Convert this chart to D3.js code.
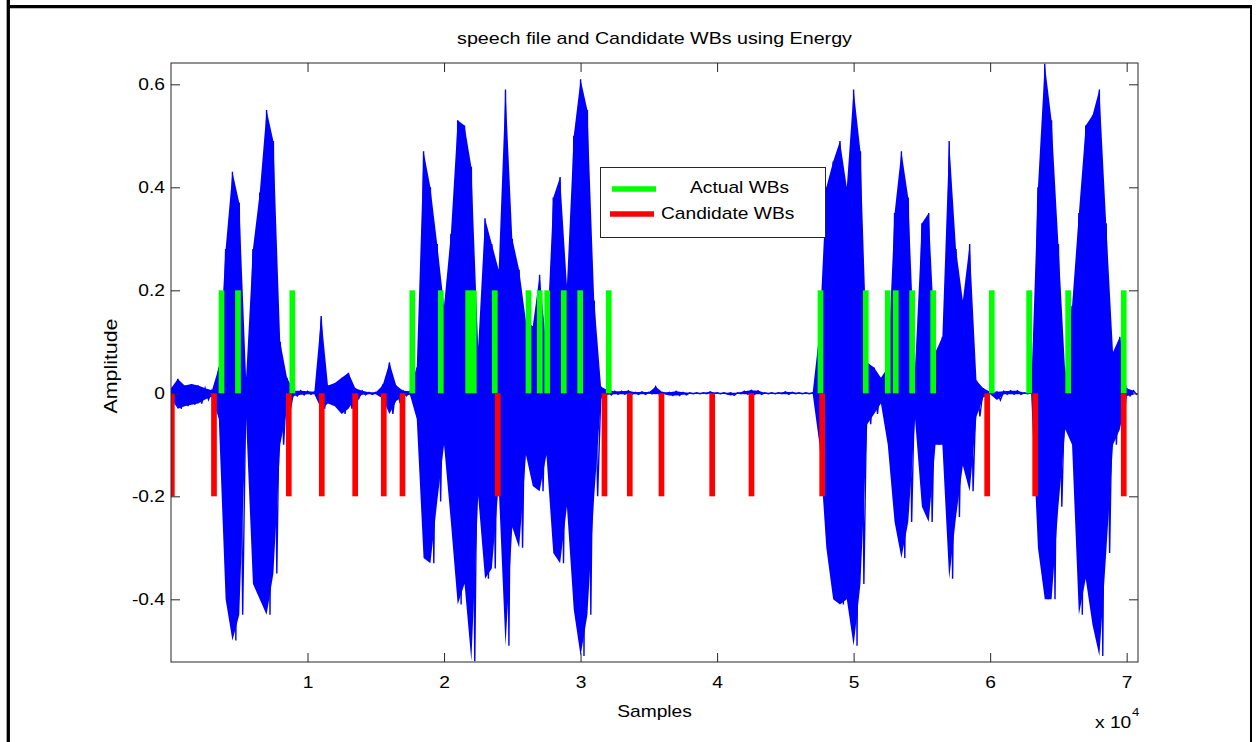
<!DOCTYPE html>
<html>
<head>
<meta charset="utf-8">
<script src="https://cdn.jsdelivr.net/npm/d3@7"></script>
<style>
body{margin:0;background:#fff}
svg{display:block}
text{font-family:"Liberation Sans",Arial,Helvetica,sans-serif;fill:#000}
</style>
</head>
<body>
<svg id="chart" width="1259" height="742"></svg>
<script>
// envelope of the speech signal, read every 500 samples (upper / lower peak)
const envSamples = d3.range(0, 71000, 500);
const envHi = [
  .010,.028,.015,.018,.015,.010,.006,.050,.280,.430,
  .370,.030,.280,.390,.550,.490,.100,.030,.005,.005,
  .004,.003,.150,.015,.020,.030,.040,.010,.005,.002,
  .002,.015,.060,.015,.005,.004,.050,.470,.400,.290,
  .170,.310,.530,.520,.440,.090,.340,.290,.240,.590,
  .300,.240,.140,.130,.230,.090,.380,.420,.210,.500,
  .610,.550,.180,.013,.006,.004,.004,.005,.002,.003,
  .002,.013,.002,.002,.004,.002,.001,.001,.001,.003,
  .001,.001,.001,.001,.004,.006,.005,.001,.001,.001,
  .003,.002,.001,.001,.001,.120,.400,.450,.490,.400,
  .590,.470,.060,.050,.030,.050,.350,.470,.380,.050,
  .330,.350,.080,.110,.490,.280,.180,.290,.025,.010,
  .003,.003,.004,.005,.005,.001,.001,.400,.640,.530,
  .290,.040,.170,.350,.520,.540,.590,.330,.080,.110,
  .010,.005
];
const envLo = [
  -.010,-.030,-.025,-.022,-.020,-.012,-.006,-.050,-.400,-.480,
  -.430,-.050,-.370,-.400,-.430,-.350,-.100,-.030,-.005,-.003,
  -.002,-.002,-.030,-.020,-.025,-.040,-.030,-.010,-.003,-.002,
  -.002,-.010,-.040,-.015,-.005,-.003,-.050,-.320,-.330,-.210,
  -.100,-.250,-.410,-.370,-.520,-.200,-.360,-.340,-.180,-.490,
  -.260,-.300,-.120,-.180,-.190,-.120,-.310,-.330,-.220,-.420,
  -.510,-.430,-.200,-.010,-.003,-.002,-.002,-.002,-.002,-.002,
  -.001,-.002,-.001,-.004,-.004,-.003,-.001,-.001,-.001,-.001,
  -.001,-.001,-.004,-.001,-.002,-.002,-.002,-.001,-.001,-.001,
  -.002,-.001,-.001,-.001,-.001,-.100,-.300,-.400,-.410,-.400,
  -.490,-.370,-.060,-.040,-.020,-.100,-.250,-.320,-.250,-.050,
  -.220,-.250,-.100,-.100,-.360,-.240,-.140,-.190,-.045,-.008,
  -.002,-.013,-.002,-.002,-.002,-.001,-.001,-.300,-.400,-.400,
  -.220,-.070,-.100,-.430,-.360,-.450,-.510,-.310,-.100,-.070,
  -.005,-.003
];

// word boundaries (sample index)
const actualWB = [3699,4907,8885,17674,19761,21768,22178,23716,26185,27012,27554,28770,29971,32066,
                  47571,50890,52501,53087,54289,55827,60119,62858,65714,69787];
const candidateWB = [60,3149,8628,11045,13492,15586,16956,23936,31751,33604,35926,39640,42518,
                     47697,59782,63298,69787];
const wbLevel = 0.2;

const xTicks = [10000,20000,30000,40000,50000,60000,70000];
const yTicks = [-0.4,-0.2,0,0.2,0.4,0.6];
const legendNames = ["Actual WBs","Candidate WBs"];

const svg = d3.select("#chart");
const L = 171, R = 1138, T = 63, B = 662;
const x = d3.scaleLinear().domain([0, 70830]).range([L, R]);
const y = d3.scaleLinear().domain([-0.5217, 0.6414]).range([B, T]);
const SX = 1.2; // text looks horizontally stretched in the source

// outer figure frame
svg.append("line").attr("x1",8.3).attr("y1",0).attr("x2",8.3).attr("y2",742).attr("stroke","#000").attr("stroke-width",3.3);
svg.append("line").attr("x1",7).attr("y1",6.7).attr("x2",1252).attr("y2",6.7).attr("stroke","#000").attr("stroke-width",3.3);
svg.append("line").attr("x1",1251).attr("y1",5).attr("x2",1251).attr("y2",742).attr("stroke","#000").attr("stroke-width",2);

svg.append("defs").append("clipPath").attr("id","clip")
  .append("rect").attr("x",L).attr("y",T).attr("width",R-L).attr("height",B-T);

const plot = svg.append("g").attr("clip-path","url(#clip)");

// waveform body: area between the peaks
const env = envSamples.map((s,i)=>({s:s, hi:envHi[i], lo:envLo[i]}));
plot.append("path")
  .attr("d", d3.area().x(d=>x(d.s)).y0(d=>y(d.lo)).y1(d=>y(d.hi))(env))
  .attr("fill","#0000ff").attr("stroke","none");

// waveform strokes: zigzag through upper and lower peaks
let pts = [];
env.forEach(d=>{
  pts.push([d.s, d.hi]);
  pts.push([d.s+250, d.lo]);
});
plot.append("path")
  .attr("d", d3.line().x(d=>x(d[0])).y(d=>y(d[1]))(pts))
  .attr("fill","none").attr("stroke","#0000ff").attr("stroke-width",1.4);

plot.selectAll("line.act").data(actualWB).enter().append("line")
  .attr("class","act")
  .attr("x1",d=>x(d)).attr("x2",d=>x(d))
  .attr("y1",y(0)).attr("y2",y(wbLevel))
  .attr("stroke","#00ff00").attr("stroke-width",5.7);

plot.selectAll("line.cand").data(candidateWB).enter().append("line")
  .attr("class","cand")
  .attr("x1",d=>x(d)).attr("x2",d=>x(d))
  .attr("y1",y(0)).attr("y2",y(-wbLevel))
  .attr("stroke","#ff0000").attr("stroke-width",5.7);

// axes (ticks inside, on all four sides)
const axCol = "#262626";
function styleAxis(g){
  g.select(".domain").remove();
  g.selectAll("line").attr("stroke",axCol);
  g.selectAll("text").style("font-size","16px").attr("fill","#000");
}
const fmtY = d => d===0 ? "0" : String(+d.toFixed(1));

svg.append("g").attr("transform",`translate(0,${B})`)
  .call(d3.axisBottom(x).tickValues(xTicks).tickSize(-9).tickFormat(d=>d/10000))
  .call(styleAxis)
  .call(g=>g.selectAll("text").attr("y",26).attr("dy",null).attr("transform",`scale(${SX},1)`));
svg.append("g").attr("transform",`translate(0,${T})`)
  .call(d3.axisTop(x).tickValues(xTicks).tickSize(-9).tickFormat(""))
  .call(styleAxis);
svg.append("g").attr("transform",`translate(${L},0)`)
  .call(d3.axisLeft(y).tickValues(yTicks).tickSize(-9).tickFormat(fmtY))
  .call(styleAxis)
  .call(g=>g.selectAll("text").attr("x",-6/SX).attr("text-anchor","end").attr("transform",`scale(${SX},1)`));
svg.append("g").attr("transform",`translate(${R},0)`)
  .call(d3.axisRight(y).tickValues(yTicks).tickSize(-9).tickFormat(""))
  .call(styleAxis);

svg.append("rect").attr("x",L).attr("y",T).attr("width",R-L).attr("height",B-T)
  .attr("fill","none").attr("stroke",axCol).attr("stroke-width",1);

function label(px, py, str, size, anchor){
  return svg.append("g").attr("transform",`translate(${px},${py})`)
    .append("text").attr("transform",`scale(${SX},1)`)
    .attr("text-anchor",anchor).style("font-size",size+"px").text(str);
}
label((L+R)/2, 44, "speech file and Candidate WBs using Energy", 16.4, "middle");
label((L+R)/2, 717, "Samples", 16, "middle");
label(1095, 728, "x 10", 16, "start");
label(1132, 716, "4", 11, "start");

svg.append("text").attr("transform","translate(117,366) rotate(-90)")
  .attr("text-anchor","middle").style("font-size","18px")
  .attr("textLength",95).attr("lengthAdjust","spacingAndGlyphs").text("Amplitude");

// legend
const lg = svg.append("g");
lg.append("rect").attr("x",600.5).attr("y",167.5).attr("width",225).attr("height",70)
  .attr("fill","#fff").attr("stroke",axCol).attr("stroke-width",1);
const legendRows = [
  {name: legendNames[0], color:"#00ff00", lx:612, ly:189, tx:690, ty:193},
  {name: legendNames[1], color:"#ff0000", lx:610, ly:214, tx:661, ty:219}
];
legendRows.forEach(r=>{
  lg.append("line").attr("x1",r.lx).attr("x2",r.lx+44).attr("y1",r.ly).attr("y2",r.ly)
    .attr("stroke",r.color).attr("stroke-width",5.7);
  label(r.tx, r.ty, r.name, 16, "start");
});
</script>
</body>
</html>
